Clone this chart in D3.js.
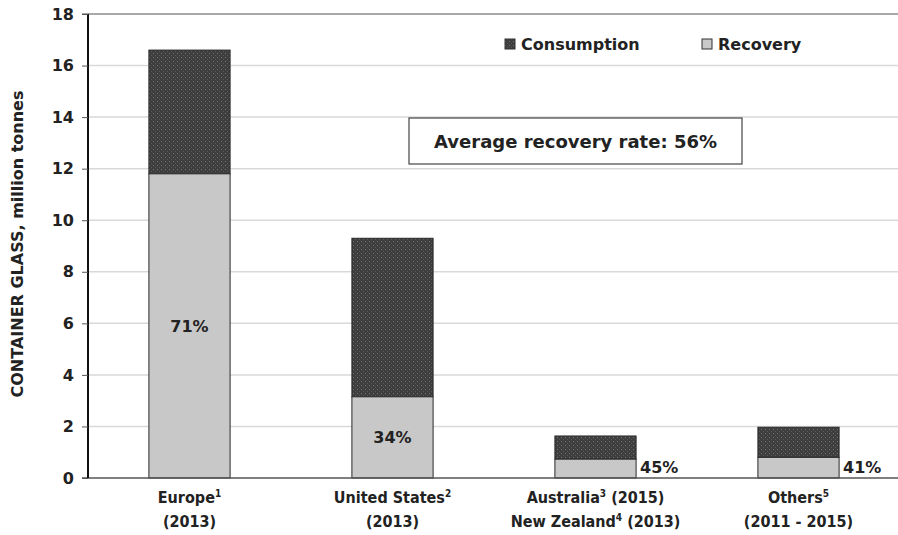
<!DOCTYPE html>
<html>
<head>
<meta charset="utf-8">
<script src="https://cdn.jsdelivr.net/npm/d3@7/dist/d3.min.js"></script>
<style>
  body { margin: 0; background: #fff; }
  svg { display: block; }
  text { font-family: "DejaVu Sans", sans-serif; font-weight: bold; fill: #222; }
  .cond { font-family: "DejaVu Sans Condensed", "DejaVu Sans", sans-serif; font-stretch: condensed; }
</style>
</head>
<body>
<svg id="chart" width="898" height="535"></svg>
<script>
const categories = ["Europe", "United States", "Australia/New Zealand", "Others"];
// each label line: [text, superscript, rest]
const labelLine1 = [["Europe", "1", ""], ["United States", "2", ""], ["Australia", "3", " (2015)"], ["Others", "5", ""]];
const labelLine2 = [["(2013)", "", ""], ["(2013)", "", ""], ["New Zealand", "4", " (2013)"], ["(2011 - 2015)", "", ""]];
const consumption = [16.6, 9.3, 1.63, 1.97];
const recovery = [11.8, 3.15, 0.73, 0.8];
const rateLabels = ["71%", "34%", "45%", "41%"];
const yTicks = [0, 2, 4, 6, 8, 10, 12, 14, 16, 18];
const seriesNames = ["Consumption", "Recovery"];
const averageText = "Average recovery rate: 56%";
const yTitle = "CONTAINER GLASS, million tonnes";

const svg = d3.select("#chart");
const x = d3.scaleBand().domain(categories).range([88, 900]).paddingInner(0.6).paddingOuter(0.3);
const y = d3.scaleLinear().domain([0, 18]).range([478, 14]);

const defs = svg.append("defs");
const pat = defs.append("pattern").attr("id", "dots").attr("patternUnits", "userSpaceOnUse")
  .attr("width", 4).attr("height", 4);
pat.append("rect").attr("width", 4).attr("height", 4).attr("fill", "#3e3e3e");
pat.append("rect").attr("x", 1).attr("y", 1).attr("width", 1).attr("height", 1).attr("fill", "#767676");
pat.append("rect").attr("x", 3).attr("y", 3).attr("width", 1).attr("height", 1).attr("fill", "#5a5a5a");

// gridlines
svg.append("g").selectAll("line").data(yTicks.filter(d => d > 0 && d < 18)).join("line")
  .attr("x1", 88).attr("x2", 898).attr("y1", d => y(d)).attr("y2", d => y(d))
  .attr("stroke", "#d9d9d9").attr("stroke-width", 1.5);
// top line
svg.append("line").attr("x1", 82).attr("x2", 898).attr("y1", y(18)).attr("y2", y(18))
  .attr("stroke", "#555").attr("stroke-width", 1.2);

// bars
const bars = svg.append("g");
bars.selectAll("rect.cons").data(categories).join("rect").attr("class", "cons")
  .attr("x", d => x(d)).attr("width", x.bandwidth())
  .attr("y", (d, i) => y(consumption[i])).attr("height", (d, i) => y(recovery[i]) - y(consumption[i]))
  .attr("fill", "url(#dots)").attr("stroke", "#2a2a2a").attr("stroke-width", 1);
bars.selectAll("rect.rec").data(categories).join("rect").attr("class", "rec")
  .attr("x", d => x(d)).attr("width", x.bandwidth())
  .attr("y", (d, i) => y(recovery[i])).attr("height", (d, i) => y(0) - y(recovery[i]))
  .attr("fill", "#c8c8c8").attr("stroke", "#2a2a2a").attr("stroke-width", 1);

// rate labels
svg.append("g").selectAll("text").data(categories).join("text")
  .attr("x", (d, i) => i < 2 ? x(d) + x.bandwidth() / 2 : x(d) + x.bandwidth() + 4)
  .attr("y", (d, i) => i < 2 ? (y(recovery[i]) + y(0)) / 2 + 6 : y(0) - 5)
  .attr("text-anchor", (d, i) => i < 2 ? "middle" : "start")
  .attr("font-size", 16).text((d, i) => rateLabels[i]);

// baseline
svg.append("line").attr("x1", 82).attr("x2", 898).attr("y1", y(0)).attr("y2", y(0))
  .attr("stroke", "#555").attr("stroke-width", 1.5);

// y axis
const ya = svg.append("g").attr("transform", "translate(88,0)")
  .call(d3.axisLeft(y).tickValues(yTicks).tickSize(6).tickPadding(8).tickFormat(d3.format("d")));
ya.select(".domain").attr("stroke", "#111").attr("stroke-width", 2).attr("d", `M0,${y(18)}V${y(0)}`);
ya.selectAll(".tick line").attr("stroke", "#555");
ya.selectAll(".tick text").attr("font-size", 16).attr("font-family", "DejaVu Sans Condensed, DejaVu Sans")
  .attr("font-weight", "bold").attr("fill", "#222");

// y title
svg.append("text").attr("transform", `translate(23,${(y(0) + y(18)) / 2 - 2}) rotate(-90)`)
  .attr("text-anchor", "middle").attr("font-size", 16).text(yTitle);

// category labels
function labelLine(sel, parts) {
  sel.append("tspan").text(parts[0]);
  if (parts[1]) sel.append("tspan").attr("font-size", 10).attr("dy", -6).text(parts[1]);
  if (parts[2]) sel.append("tspan").attr("dy", parts[1] ? 6 : 0).text(parts[2]);
}
const cl = svg.append("g");
categories.forEach((c, i) => {
  const cx = x(c) + x.bandwidth() / 2;
  const t1 = cl.append("text").attr("class", "cond").attr("x", cx).attr("y", 503)
    .attr("text-anchor", "middle").attr("font-size", 16);
  labelLine(t1, labelLine1[i]);
  const t2 = cl.append("text").attr("class", "cond").attr("x", cx).attr("y", 527)
    .attr("text-anchor", "middle").attr("font-size", 16);
  labelLine(t2, labelLine2[i]);
});

// legend
const legX = [505, 702];
const leg = svg.append("g");
seriesNames.forEach((s, i) => {
  leg.append("rect").attr("x", legX[i]).attr("y", 39).attr("width", 10).attr("height", 10)
    .attr("fill", i === 0 ? "url(#dots)" : "#c8c8c8").attr("stroke", "#333").attr("stroke-width", 1);
  leg.append("text").attr("x", legX[i] + 16).attr("y", 50).attr("font-size", 16).text(s);
});

// average box
svg.append("rect").attr("x", 409).attr("y", 118).attr("width", 333).attr("height", 46)
  .attr("fill", "#fff").attr("stroke", "#444").attr("stroke-width", 1.2);
svg.append("text").attr("x", 575.5).attr("y", 147.5).attr("text-anchor", "middle")
  .attr("font-size", 18).text(averageText);
</script>
</body>
</html>
